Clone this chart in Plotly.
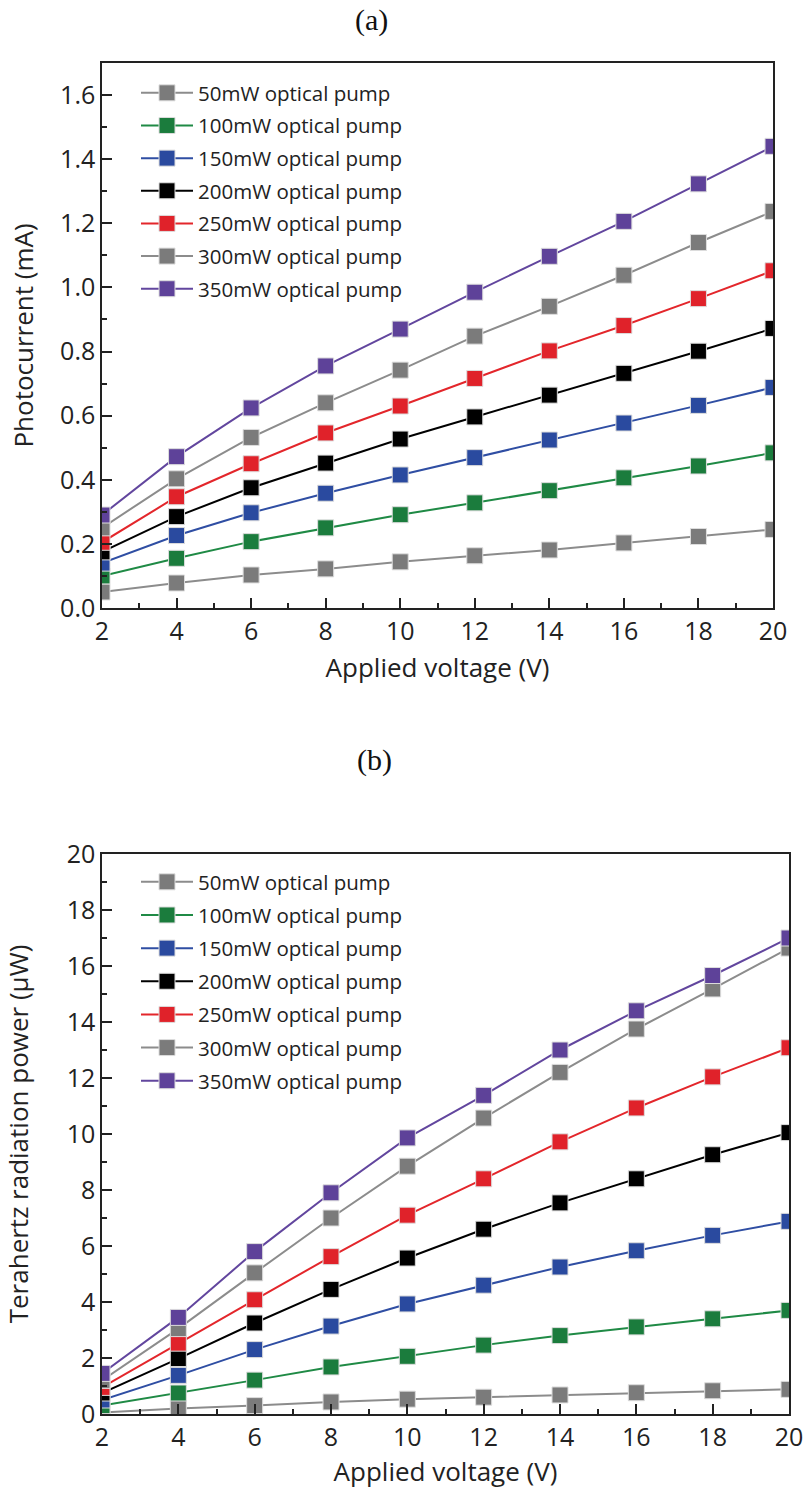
import plotly.graph_objects as go

voltage = [2, 4, 6, 8, 10, 12, 14, 16, 18, 20]
labels = ["50mW optical pump", "100mW optical pump", "150mW optical pump",
          "200mW optical pump", "250mW optical pump", "300mW optical pump",
          "350mW optical pump"]

# (a) photocurrent (mA)
pc_50 = [0.05, 0.078, 0.103, 0.122, 0.144, 0.163, 0.181, 0.203, 0.223, 0.245]
pc_100 = [0.10, 0.155, 0.207, 0.25, 0.291, 0.328, 0.366, 0.406, 0.443, 0.484]
pc_150 = [0.14, 0.226, 0.297, 0.358, 0.415, 0.469, 0.524, 0.577, 0.632, 0.688]
pc_200 = [0.175, 0.285, 0.375, 0.452, 0.527, 0.596, 0.664, 0.732, 0.801, 0.872]
pc_250 = [0.205, 0.347, 0.45, 0.546, 0.63, 0.716, 0.802, 0.881, 0.965, 1.052]
pc_300 = [0.25, 0.403, 0.532, 0.64, 0.742, 0.848, 0.941, 1.038, 1.14, 1.237]
pc_350 = [0.29, 0.472, 0.624, 0.755, 0.87, 0.985, 1.097, 1.206, 1.323, 1.44]

# (b) terahertz radiation power (uW)
thz_50 = [0.05, 0.2, 0.3, 0.43, 0.53, 0.6, 0.68, 0.76, 0.83, 0.88]
thz_100 = [0.3, 0.75, 1.21, 1.68, 2.06, 2.46, 2.8, 3.11, 3.4, 3.7]
thz_150 = [0.5, 1.38, 2.3, 3.14, 3.93, 4.6, 5.25, 5.83, 6.38, 6.88]
thz_200 = [0.75, 1.98, 3.25, 4.45, 5.57, 6.6, 7.54, 8.4, 9.26, 10.05]
thz_250 = [0.95, 2.53, 4.08, 5.62, 7.1, 8.4, 9.72, 10.93, 12.04, 13.08]
thz_300 = [1.2, 3.05, 5.04, 7.0, 8.85, 10.57, 12.2, 13.75, 15.18, 16.64]
thz_350 = [1.45, 3.45, 5.8, 7.9, 9.86, 11.38, 13.0, 14.4, 15.66, 17.0]

line_colors = ["#8c8c8c", "#1f8a45", "#2f4ea3", "#000000", "#e3262b", "#8c8c8c", "#62469e"]
marker_colors = ["#7b7b7b", "#1b7c3d", "#2a4a9f", "#000000", "#e0222a", "#7b7b7b", "#5e4299"]

series_a = [pc_50, pc_100, pc_150, pc_200, pc_250, pc_300, pc_350]
series_b = [thz_50, thz_100, thz_150, thz_200, thz_250, thz_300, thz_350]

FONT = "Open Sans"
TXT = "#222222"

fig = go.Figure()
for i in range(7):
    fig.add_trace(go.Scatter(
        x=voltage, y=series_a[i], name=labels[i], mode="lines+markers",
        line=dict(color=line_colors[i], width=2),
        marker=dict(symbol="square", size=16, color=marker_colors[i],
                    line=dict(color="#dddddd", width=1)),
        xaxis="x", yaxis="y", legend="legend", legendgroup="a%d" % i))
for i in range(7):
    fig.add_trace(go.Scatter(
        x=voltage, y=series_b[i], name=labels[i], mode="lines+markers",
        line=dict(color=line_colors[i], width=2),
        marker=dict(symbol="square", size=16, color=marker_colors[i],
                    line=dict(color="#dddddd", width=1)),
        xaxis="x2", yaxis="y2", legend="legend2", legendgroup="b%d" % i))

W, H = 804, 1498
def px(v):
    return v / W
def py(v):
    return 1 - v / H

xa_dom = [px(102), px(773)]
ya_dom = [py(608), py(63)]
xb_dom = [px(102), px(789)]
yb_dom = [py(1414), py(854)]

tickfont = dict(family=FONT, size=25, color=TXT)
titlefont = dict(family=FONT, size=26, color=TXT)
legfont = dict(family=FONT, size=20.5, color=TXT)

common_x = dict(range=[2, 20], tickvals=voltage, ticks="inside", ticklen=10, tickwidth=1.5,
                tickcolor="#222", showline=True, mirror=True, linecolor="#222", linewidth=1.5,
                showgrid=False, zeroline=False, tickfont=tickfont, automargin=False,
                minor=dict(tickvals=[3, 5, 7, 9, 11, 13, 15, 17, 19], ticks="inside", ticklen=5,
                           tickwidth=1.5, tickcolor="#222", showgrid=False))
aux = dict(tickwidth=1.5, tickcolor="#222", showticklabels=False, showline=False,
           showgrid=False, zeroline=False, automargin=False, ticks="inside")

fig.update_layout(
    width=W, height=H, margin=dict(l=0, r=0, t=0, b=0, autoexpand=False),
    paper_bgcolor="white", plot_bgcolor="white",
    xaxis=dict(domain=xa_dom, anchor="y", **common_x,
               title=dict(text="Applied voltage (V)", font=titlefont, standoff=13)),
    yaxis=dict(domain=ya_dom, anchor="x", range=[0, 1.7], dtick=0.2, tick0=0, tickformat=".1f",
               ticks="inside", ticklen=10, tickwidth=1.5, tickcolor="#222",
               showline=True, mirror=True, linecolor="#222", linewidth=1.5,
               showgrid=False, zeroline=False, tickfont=tickfont, automargin=False,
               minor=dict(dtick=0.1, tick0=0, ticks="inside", ticklen=5, tickwidth=1.5,
                          tickcolor="#222", showgrid=False),
               title=dict(text="Photocurrent (mA)", font=titlefont, standoff=19)),
    xaxis3=dict(overlaying="x", anchor="y", side="top", range=[2, 20],
                tickvals=[3, 5, 7, 9, 11, 13, 15, 17, 19], ticklen=6, **aux),
    yaxis3=dict(overlaying="y", anchor="x", side="right", range=[0, 1.7], dtick=0.2, tick0=0,
                ticklen=9, **aux),
    xaxis2=dict(domain=xb_dom, anchor="y2", **common_x,
                title=dict(text="Applied voltage (V)", font=titlefont, standoff=11)),
    yaxis2=dict(domain=yb_dom, anchor="x2", range=[0, 20], dtick=2, tick0=0,
                ticks="inside", ticklen=10, tickwidth=1.5, tickcolor="#222",
                showline=True, mirror=True, linecolor="#222", linewidth=1.5,
                showgrid=False, zeroline=False, tickfont=tickfont, automargin=False,
                minor=dict(dtick=1, tick0=0, ticks="inside", ticklen=5, tickwidth=1.5,
                           tickcolor="#222", showgrid=False),
                title=dict(text="Terahertz radiation power (μW)", font=titlefont, standoff=35)),
    xaxis4=dict(overlaying="x2", anchor="y2", side="top", range=[2, 20],
                tickvals=[3, 5, 7, 9, 11, 13, 15, 17, 19], ticklen=7, **aux),
    yaxis4=dict(overlaying="y2", anchor="x2", side="right", range=[0, 20], dtick=1, tick0=0,
                ticklen=9, **aux),
    legend=dict(x=px(136), y=py(73), xanchor="left", yanchor="top",
                bgcolor="rgba(0,0,0,0)", font=legfont,
                tracegroupgap=3, itemsizing="trace", itemwidth=52),
    legend2=dict(x=px(136), y=py(862), xanchor="left", yanchor="top",
                 bgcolor="rgba(0,0,0,0)", font=legfont,
                 tracegroupgap=3.5, itemsizing="trace", itemwidth=52),
    annotations=[
        dict(text="(a)", x=px(371), y=py(20), xref="paper", yref="paper", showarrow=False,
             xanchor="center", yanchor="middle",
             font=dict(family="Liberation Serif", size=30, color="#111")),
        dict(text="(b)", x=px(374), y=py(760), xref="paper", yref="paper", showarrow=False,
             xanchor="center", yanchor="middle",
             font=dict(family="Liberation Serif", size=30, color="#111")),
    ],
)

fig.write_html("out.html")
